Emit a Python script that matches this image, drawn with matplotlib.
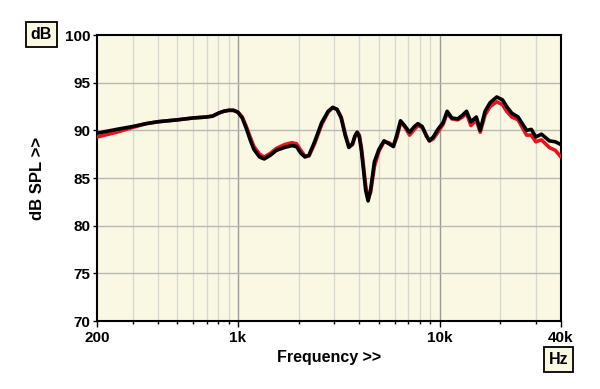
import matplotlib
matplotlib.use("Agg")
import matplotlib.pyplot as plt
from matplotlib.ticker import FixedLocator, NullFormatter

# frequenze (Hz) e livelli (dB SPL)
freq = [200, 250, 300, 350, 400, 500, 600, 700, 750, 800, 850, 900, 950, 1000,
        1050, 1100, 1150, 1200, 1280, 1350, 1450, 1550, 1700, 1850, 1950, 2050,
        2150, 2250, 2400, 2600, 2800, 2950, 3100, 3250, 3400, 3550, 3700, 3800,
        3900, 4000, 4100, 4300, 4420, 4550, 4750, 5000, 5300, 5600, 5900, 6150,
        6400, 6700, 7100, 7500, 7800, 8200, 8600, 8900, 9300, 9800, 10400,
        10900, 11500, 12300, 13000, 13600, 14300, 15200, 15900, 16800, 17800,
        19200, 20500, 21500, 22800, 24500, 27000, 28500, 30000, 32000, 35000,
        37500, 40000]

black_db = [89.7, 90.1, 90.4, 90.7, 90.9, 91.1, 91.3, 91.4, 91.5, 91.8, 92.0,
            92.1, 92.1, 91.9, 91.3, 90.2, 89.0, 88.0, 87.2, 87.0, 87.4, 87.9,
            88.2, 88.4, 88.3, 87.6, 87.2, 87.4, 88.8, 90.8, 92.0, 92.4, 92.2,
            91.3, 89.5, 88.2, 88.6, 89.4, 89.8, 89.3, 87.8, 83.7, 82.6, 83.8,
            86.7, 88.0, 88.9, 88.6, 88.3, 89.6, 91.0, 90.5, 89.8, 90.4, 90.7,
            90.4, 89.4, 88.9, 89.3, 90.1, 90.8, 92.0, 91.3, 91.2, 91.6, 92.0,
            90.9, 91.4, 90.0, 92.0, 92.9, 93.5, 93.2, 92.5, 91.8, 91.4, 90.0,
            90.1, 89.3, 89.6, 88.9, 88.8, 88.5]

red_db = [89.3, 89.8, 90.3, 90.7, 90.9, 91.1, 91.3, 91.4, 91.5, 91.8, 92.0,
          92.1, 92.1, 91.9, 91.4, 90.4, 89.3, 88.3, 87.5, 87.2, 87.6, 88.1,
          88.5, 88.7, 88.6, 87.9, 87.3, 87.3, 88.6, 90.6, 91.9, 92.4, 92.2,
          91.4, 89.7, 88.3, 88.5, 89.3, 89.8, 89.5, 88.1, 84.2, 82.8, 83.5,
          86.2, 87.8, 88.8, 88.7, 88.4, 89.3, 90.8, 90.4, 89.5, 90.1, 90.5,
          90.3, 89.5, 88.9, 89.1, 89.8, 90.6, 91.8, 91.2, 91.1, 91.4, 91.8,
          90.5, 91.1, 89.8, 91.6, 92.5, 93.0, 92.7, 92.0, 91.4, 91.1, 89.5,
          89.5, 88.8, 89.0, 88.2, 87.9, 87.2]

major_ticks = [200, 1000, 10000, 40000]
tick_labels = ["200", "1k", "10k", "40k"]
minor_ticks = [300, 400, 500, 600, 700, 800, 900,
               2000, 3000, 4000, 5000, 6000, 7000, 8000, 9000,
               20000, 30000]

plt.rcParams['font.family'] = ['Liberation Sans', 'DejaVu Sans']

fig = plt.figure(figsize=(6, 3.89), dpi=100)
ax = fig.add_axes([0.1617, 0.1748, 0.7733, 0.7352])
ax.set_facecolor("#FAF8E3")

ax.set_xscale("log")
ax.set_xlim(200, 40000)
ax.set_ylim(70, 100)

# griglia
for f in minor_ticks:
    ax.axvline(f, color="#D8D8D0", lw=1, zorder=1)
for f in [1000, 10000]:
    ax.axvline(f, color="#9A9A9A", lw=1, zorder=1)
for y in range(75, 100, 5):
    ax.axhline(y, color="#B8B8B0", lw=1, zorder=1)

ax.plot(freq, red_db, color="#E8141B", lw=2.6, zorder=3,
        solid_joinstyle="round", solid_capstyle="round")
ax.plot(freq, black_db, color="black", lw=2.6, zorder=4,
        solid_joinstyle="round", solid_capstyle="round")

ax.xaxis.set_major_locator(FixedLocator(major_ticks))
ax.set_xticklabels(tick_labels)
ax.xaxis.set_minor_locator(FixedLocator(minor_ticks))
ax.xaxis.set_minor_formatter(NullFormatter())
ax.set_yticks(range(70, 101, 5))

ax.tick_params(axis="x", which="major", length=4, width=1, direction="out",
               labelsize=11, pad=3)
ax.tick_params(axis="x", which="minor", length=2, width=1, direction="out")
ax.tick_params(axis="y", length=3, width=1, direction="out", labelsize=11, pad=2)
for lab in ax.get_xticklabels() + ax.get_yticklabels():
    lab.set_fontweight("bold")

for s in ax.spines.values():
    s.set_linewidth(1.5)
    s.set_color("black")

ax.set_xlabel("Frequency >>", fontsize=11.5, fontweight="bold", labelpad=4)
ax.set_ylabel("dB SPL >>", fontsize=12, fontweight="bold", labelpad=14)

# etichette di unità nei riquadri
box = dict(boxstyle="square,pad=0.3", facecolor="#FAF8E3", edgecolor="black", lw=1.3)
fig.text(41.5 / 600, 1 - 34.5 / 389, "dB", ha="center", va="center",
         fontsize=11.5, fontweight="bold", bbox=box)
fig.text(558.5 / 600, 1 - 359.5 / 389, "Hz", ha="center", va="center",
         fontsize=11.5, fontweight="bold", bbox=box)

fig.savefig("out.png", dpi=100, facecolor="white")
